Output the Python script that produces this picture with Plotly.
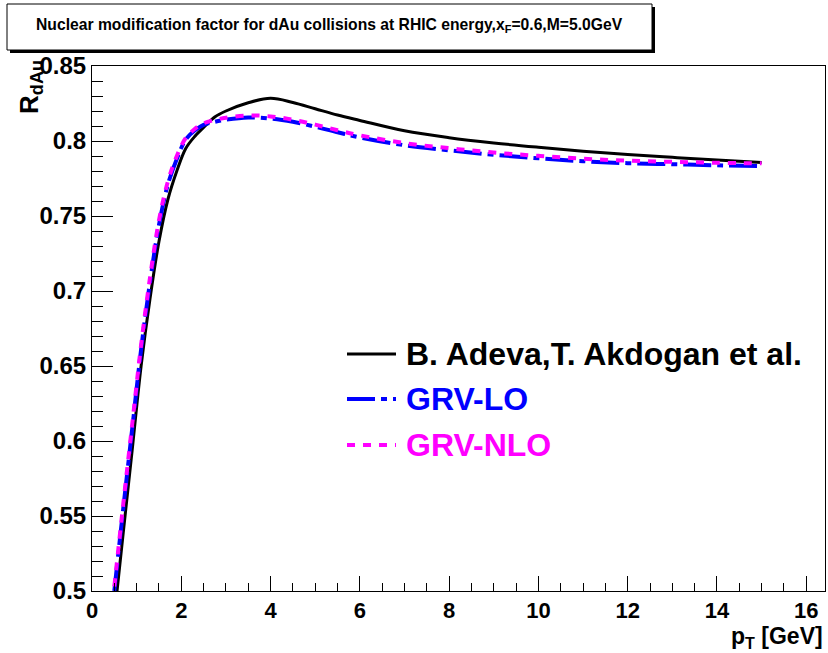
import plotly.graph_objects as go

# ---- data ----
pt = [0.5, 0.7, 0.9, 1.1, 1.3, 1.5, 1.7, 1.9, 2.1, 2.3, 2.5, 2.75, 3.0, 3.5, 4.0,
      4.5, 5.0, 5.5, 6.0, 7.0, 8.0, 9.0, 10.0, 11.0, 12.0, 13.0, 14.0, 15.0]
r_adeva = [0.483, 0.539, 0.594, 0.650, 0.695, 0.733, 0.761, 0.780, 0.795, 0.803, 0.809,
           0.816, 0.820, 0.8255, 0.8285, 0.8257, 0.8215, 0.8173, 0.8137, 0.8068, 0.8022,
           0.7987, 0.7958, 0.7932, 0.7910, 0.7891, 0.7873, 0.7857]
r_grv_lo = [0.500, 0.555, 0.608, 0.661, 0.706, 0.744, 0.771, 0.788, 0.801, 0.807, 0.8108,
            0.8128, 0.8142, 0.8157, 0.8150, 0.8128, 0.8095, 0.8058, 0.8024, 0.7972, 0.7938,
            0.7908, 0.7885, 0.7865, 0.7852, 0.7845, 0.7838, 0.7833]
r_grv_nlo = [0.503, 0.558, 0.611, 0.664, 0.709, 0.747, 0.773, 0.790, 0.802, 0.808, 0.8118,
             0.8140, 0.8155, 0.8170, 0.8164, 0.8142, 0.8109, 0.8072, 0.8038, 0.7986, 0.7952,
             0.7923, 0.7901, 0.7882, 0.7869, 0.7861, 0.7855, 0.7851]
series_names = ["B. Adeva,T. Akdogan et al.", "GRV-LO", "GRV-NLO"]
x_range = [0, 16.42]
y_range = [0.5, 0.85]

# ---- layout geometry (pixels) ----
W, H = 828, 653
L, R, T, B = 92, 825, 66, 591


def px(x):
    return (x - L) / (R - L)


def py(y):
    return (B - y) / (B - T)


FONT = "Liberation Sans"
BLUE_DASH = "28px,6px,6px,6px"
MAG_DASH = "8px,8px"

fig = go.Figure()
fig.add_trace(go.Scatter(x=pt, y=r_adeva, mode="lines", line=dict(color="black", width=3, shape="spline"),
                         showlegend=False))
fig.add_trace(go.Scatter(x=pt, y=r_grv_lo, mode="lines",
                         line=dict(color="#0000ff", width=4, dash=BLUE_DASH, shape="spline"), showlegend=False))
fig.add_trace(go.Scatter(x=pt, y=r_grv_nlo, mode="lines",
                         line=dict(color="#ff00ff", width=4, dash=MAG_DASH, shape="spline"), showlegend=False))

shapes = []
# title box with shadow
shapes.append(dict(type="rect", xref="paper", yref="paper", x0=px(10), x1=px(655), y0=py(53), y1=py(7),
                   fillcolor="black", line=dict(width=0), layer="above"))
shapes.append(dict(type="rect", xref="paper", yref="paper", x0=px(7), x1=px(652), y0=py(50), y1=py(4),
                   fillcolor="white", line=dict(color="black", width=1), layer="above"))

# manual legend
leg_colors = ["black", "#0000ff", "#ff00ff"]
leg_dash = ["solid", BLUE_DASH, MAG_DASH]
leg_width = [3, 4, 4]
leg_y = [354, 399, 445]
annotations = []
for name, c, d, w, yy in zip(series_names, leg_colors, leg_dash, leg_width, leg_y):
    shapes.append(dict(type="line", xref="paper", yref="paper", x0=px(347), x1=px(396), y0=py(yy), y1=py(yy),
                       line=dict(color=c, width=w, dash=d)))
    annotations.append(dict(xref="paper", yref="paper", x=px(404), y=py(yy), xanchor="left", yanchor="middle",
                            text=name, showarrow=False,
                            font=dict(family=FONT, size=32, color=c, weight="bold")))

annotations.append(dict(xref="paper", yref="paper", x=px(329), y=py(25), xanchor="center", yanchor="middle",
                        text="Nuclear modification factor for dAu collisions at RHIC energy,x<sub>F</sub>=0.6,M=5.0GeV",
                        showarrow=False, font=dict(family=FONT, size=15.7, color="black", weight="bold")))
annotations.append(dict(xref="paper", yref="paper", x=1.0, y=py(637), xanchor="right", yanchor="middle",
                        text="p<sub>T</sub> [GeV]", showarrow=False,
                        font=dict(family=FONT, size=23, color="black", weight="bold")))
annotations.append(dict(xref="paper", yref="paper", x=px(31), y=py(58), xanchor="center", yanchor="top",
                        text="R<sub>dAu</sub>", textangle=-90, showarrow=False,
                        font=dict(family=FONT, size=26, color="black", weight="bold")))

axis_common = dict(showgrid=False, zeroline=False, showline=True, linecolor="black", linewidth=1,
                   mirror=True, ticks="inside", tickcolor="black", tickwidth=1)
fig.update_layout(
    width=W, height=H, autosize=False,
    margin=dict(l=L, r=W - R, t=T, b=H - B, pad=0),
    paper_bgcolor="white", plot_bgcolor="white",
    shapes=shapes, annotations=annotations,
    xaxis=dict(range=x_range, dtick=2, tick0=0, ticklen=15,
               minor=dict(dtick=0.5, ticklen=8, ticks="inside", tickcolor="black", tickwidth=1),
               ticklabelstandoff=0, tickfont=dict(family=FONT, size=22, color="black", weight="bold"),
               **axis_common),
    yaxis=dict(range=y_range, dtick=0.05, tick0=0.5, ticklen=21,
               minor=dict(dtick=0.01, ticklen=11, ticks="inside", tickcolor="black", tickwidth=1),
               ticklabelstandoff=0, tickfont=dict(family=FONT, size=24, color="black", weight="bold"),
               **axis_common),
)
fig.write_html("out.html")
